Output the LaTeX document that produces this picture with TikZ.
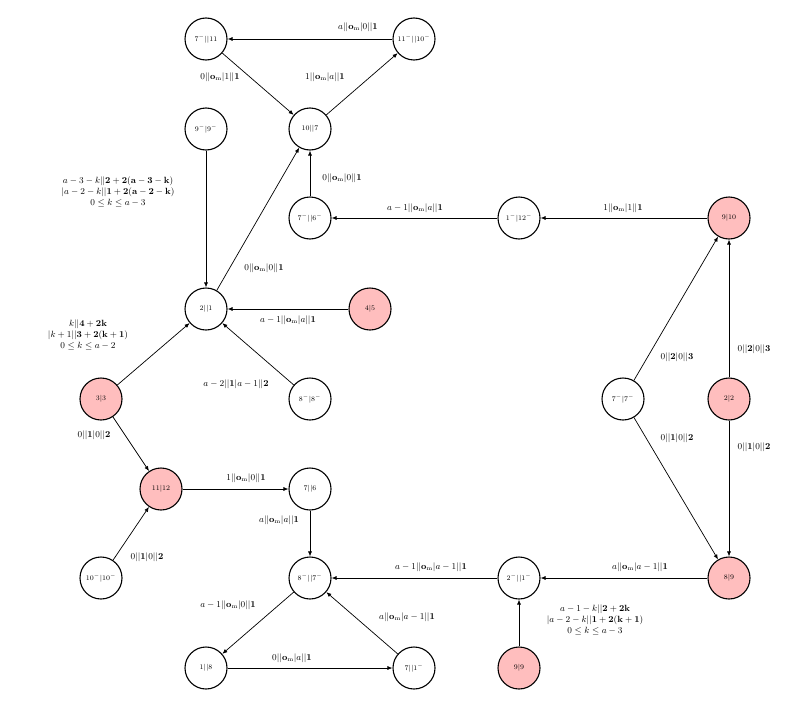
\documentclass[tikz,border=0pt]{standalone}
\usetikzlibrary{arrows.meta}
\definecolor{pinkfill}{RGB}{255,190,190}
\newcommand{\om}{\mathbf{o}_{\mathrm{m}}}
\begin{document}
\begin{tikzpicture}[x=1pt,y=-1pt,
  st/.style={circle,draw,line width=1.1pt,minimum size=42pt,inner sep=0pt,font=\scriptsize},
  hl/.style={st,fill=pinkfill},
  lab/.style={font=\small,inner sep=0pt,align=center},
  ar/.style={-{Latex[length=5pt,width=4pt]},line width=0.7pt}]
\useasboundingbox (0,0) rectangle (791,709);
\node[st] (a) at (206,39) {$7^-||11$};
\node[st] (b) at (414,39) {$11^-||10^-$};
\node[st] (c) at (206,129) {$9^-|9^-$};
\node[st] (d) at (310,129) {$10||7$};
\node[st] (e) at (310,218) {$7^-||6^-$};
\node[st] (f) at (519,218) {$1^-|12^-$};
\node[hl] (g) at (729,218) {$9|10$};
\node[st] (h) at (206,309) {$2||1$};
\node[hl] (i) at (370,309) {$4|5$};
\node[hl] (j) at (101,399) {$3|3$};
\node[st] (k) at (310,399) {$8^-|8^-$};
\node[st] (l) at (623,399) {$7^-|7^-$};
\node[hl] (m) at (729,399) {$2|2$};
\node[hl] (n) at (161,489) {$11|12$};
\node[st] (o) at (310,489) {$7||6$};
\node[st] (p) at (101,578) {$10^-|10^-$};
\node[st] (q) at (310,578) {$8^-||7^-$};
\node[st] (r) at (519,578) {$2^-||1^-$};
\node[hl] (s) at (729,578) {$8|9$};
\node[st] (t) at (206,668) {$1||8$};
\node[st] (u) at (414,668) {$7||1^-$};
\node[hl] (v) at (519,668) {$9|9$};
\foreach \x/\y in {b/a,a/d,d/b,c/h,h/d,e/d,f/e,g/f,i/h,j/h,k/h,j/n,p/n,n/o,o/q,r/q,q/t,t/u,u/q,s/r,v/r,l/g,l/s,m/g,m/s}
  \draw[ar] (\x) -- (\y);
\node[lab] (l1) at (358,27) {$a||\om|0||\mathbf{1}$};
\node[lab] (l2) at (220,77) {$0||\om|1||\mathbf{1}$};
\node[lab] (l3) at (325,77) {$1||\om|a||\mathbf{1}$};
\node[lab] (l4) at (118,192) {$a-3-k||\mathbf{2+2(a-3-k)}$\\$|a-2-k||\mathbf{1+2(a-2-k)}$\\$0\le k\le a-3$};
\node[lab] (l5) at (342,178) {$0||\om|0||\mathbf{1}$};
\node[lab] (l6) at (415,208) {$a-1||\om|a||\mathbf{1}$};
\node[lab] (l7) at (623,208) {$1||\om|1||\mathbf{1}$};
\node[lab] (l8) at (264,268) {$0||\om|0||\mathbf{1}$};
\node[lab] (l9) at (288,320) {$a-1||\om|a||\mathbf{1}$};
\node[lab] (l10) at (88,335) {$k||\mathbf{4+2k}$\\$|k+1||\mathbf{3+2(k+1)}$\\$0\le k\le a-2$};
\node[lab] (l11) at (236,384) {$a-2||\mathbf{1}|a-1||\mathbf{2}$};
\node[lab] (l12) at (94,435) {$0||\mathbf{1}|0||\mathbf{2}$};
\node[lab] (l13) at (246,478) {$1||\om|0||\mathbf{1}$};
\node[lab] (l14) at (279,520) {$a||\om|a||\mathbf{1}$};
\node[lab] (l15) at (147,557) {$0||\mathbf{1}|0||\mathbf{2}$};
\node[lab] (l16) at (431,567) {$a-1||\om|a-1||\mathbf{1}$};
\node[lab] (l17) at (228,605) {$a-1||\om|0||\mathbf{1}$};
\node[lab] (l18) at (407,617) {$a||\om|a-1||\mathbf{1}$};
\node[lab] (l19) at (292,658) {$0||\om|a||\mathbf{1}$};
\node[lab] (l20) at (677,357) {$0||\mathbf{2}|0||\mathbf{3}$};
\node[lab] (l21) at (754,349) {$0||\mathbf{2}|0||\mathbf{3}$};
\node[lab] (l22) at (677,438) {$0||\mathbf{1}|0||\mathbf{2}$};
\node[lab] (l23) at (754,447) {$0||\mathbf{1}|0||\mathbf{2}$};
\node[lab] (l24) at (640,567) {$a||\om|a-1||\mathbf{1}$};
\node[lab] (l25) at (595,620) {$a-1-k||\mathbf{2+2k}$\\$|a-2-k||\mathbf{1+2(k+1)}$\\$0\le k\le a-3$};
\end{tikzpicture}
\end{document}
